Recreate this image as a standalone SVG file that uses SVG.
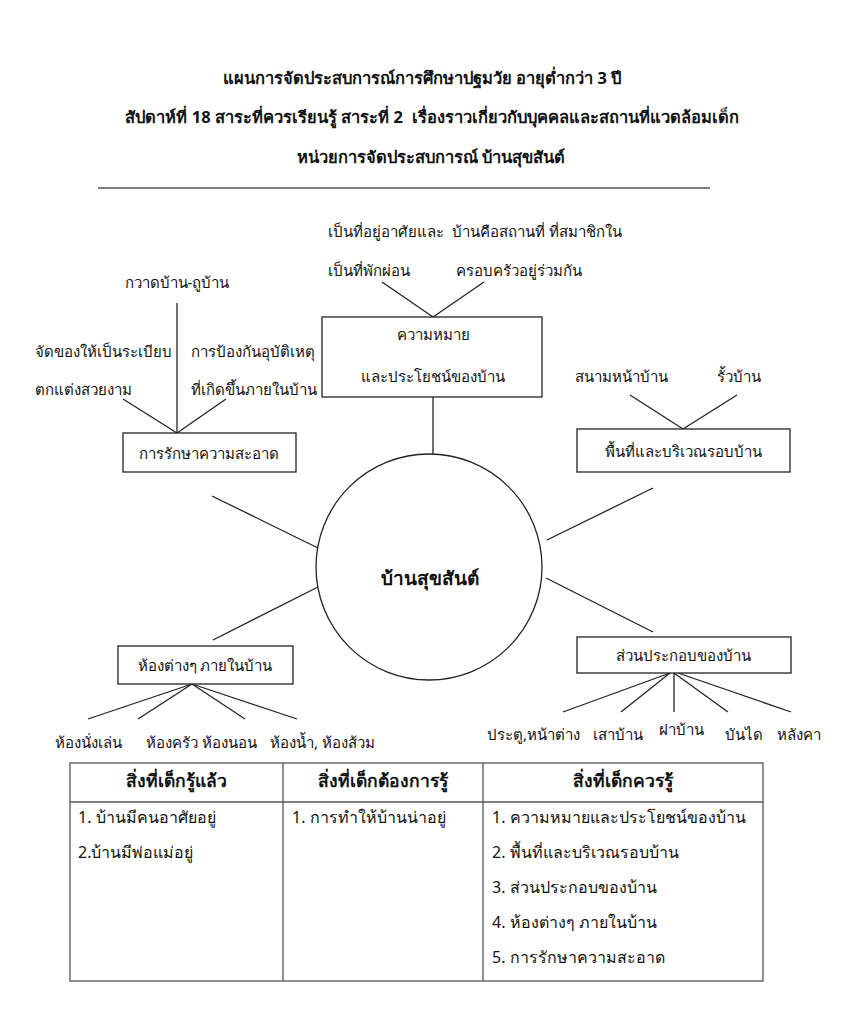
<svg xmlns="http://www.w3.org/2000/svg" width="848" height="1024" viewBox="0 0 848 1024">
<style>
text{font-family:"Noto Sans","DejaVu Sans","Liberation Sans",sans-serif;font-size:15px;fill:#111;white-space:pre}
.t{font-weight:bold;font-size:16.5px;text-anchor:middle}
.c{text-anchor:middle}
.b{font-weight:bold}
.h{font-weight:bold;font-size:17.5px;text-anchor:middle}
.r{font-size:16px}
.box{fill:#fff;stroke:#222;stroke-width:1.3}
line{stroke:#222;stroke-width:1.3}
</style>
<rect width="848" height="1024" fill="#fff"/>
<g id="title">
<text class="t" x="422" y="84">แผนการจัดประสบการณ์การศึกษาปฐมวัย อายุต่ำกว่า 3 ปี</text>
<text class="t" x="432" y="123">สัปดาห์ที่ 18 สาระที่ควรเรียนรู้ สาระที่ 2  เรื่องราวเกี่ยวกับบุคคลและสถานที่แวดล้อมเด็ก</text>
<text class="t" x="431" y="163">หน่วยการจัดประสบการณ์ บ้านสุขสันต์</text>
<line x1="98" y1="188" x2="710" y2="188" style="stroke:#555"/>
</g>
<g id="connectors">
<line x1="433" y1="397" x2="433" y2="454"/>
<line x1="382" y1="282" x2="433" y2="317"/>
<line x1="484" y1="282" x2="433" y2="317"/>
<line x1="177" y1="303" x2="177" y2="433"/>
<line x1="123" y1="399" x2="177" y2="433"/>
<line x1="226" y1="399" x2="177" y2="433"/>
<line x1="212" y1="496" x2="318" y2="548"/>
<line x1="630" y1="395" x2="683" y2="429"/>
<line x1="737" y1="395" x2="683" y2="429"/>
<line x1="653" y1="488" x2="547" y2="540"/>
<line x1="213" y1="640" x2="318" y2="587"/>
<line x1="192" y1="684" x2="88" y2="719"/>
<line x1="192" y1="684" x2="138" y2="719"/>
<line x1="192" y1="684" x2="245" y2="719"/>
<line x1="192" y1="684" x2="297" y2="719"/>
<line x1="653" y1="632" x2="546" y2="578"/>
<line x1="670" y1="673" x2="563" y2="712"/>
<line x1="670" y1="673" x2="621" y2="712"/>
<line x1="674" y1="673" x2="674" y2="712"/>
<line x1="674" y1="673" x2="728" y2="712"/>
<line x1="678" y1="673" x2="791" y2="712"/>
</g>
<g id="center">
<circle cx="429" cy="567" r="113" fill="#fff" stroke="#222" stroke-width="1.3"/>
<text class="c b" x="430" y="585" style="font-size:19px">บ้านสุขสันต์</text>
</g>
<g id="meaning">
<rect class="box" x="322" y="317" width="220" height="80"/>
<text class="c" x="433" y="340">ความหมาย</text>
<text class="c" x="433" y="382">และประโยชน์ของบ้าน</text>
<text x="328" y="237">เป็นที่อยู่อาศัยและ  บ้านคือสถานที่ ที่สมาชิกใน</text>
<text x="328" y="276">เป็นที่พักผ่อน</text>
<text x="456" y="276">ครอบครัวอยู่ร่วมกัน</text>
</g>
<g id="clean">
<rect class="box" x="123" y="433" width="173" height="39"/>
<text class="c" x="209" y="459">การรักษาความสะอาด</text>
<text class="c" x="177" y="288">กวาดบ้าน-ถูบ้าน</text>
<text x="35" y="357">จัดของให้เป็นระเบียบ</text>
<text x="35" y="395">ตกแต่งสวยงาม</text>
<text x="191" y="357">การป้องกันอุบัติเหตุ</text>
<text x="191" y="395">ที่เกิดขึ้นภายในบ้าน</text>
</g>
<g id="area">
<rect class="box" x="577" y="429" width="213" height="43"/>
<text class="c" x="683" y="457">พื้นที่และบริเวณรอบบ้าน</text>
<text x="575" y="382">สนามหน้าบ้าน</text>
<text x="717" y="382">รั้วบ้าน</text>
</g>
<g id="rooms">
<rect class="box" x="118" y="646" width="175" height="38"/>
<text class="c" x="205" y="671">ห้องต่างๆ ภายในบ้าน</text>
<text x="55" y="748">ห้องนั่งเล่น</text>
<text x="146" y="748">ห้องครัว ห้องนอน</text>
<text x="270" y="748">ห้องน้ำ, ห้องส้วม</text>
</g>
<g id="parts">
<rect class="box" x="577" y="637" width="214" height="36"/>
<text class="c" x="683" y="661">ส่วนประกอบของบ้าน</text>
<text x="487" y="740">ประตู,หน้าต่าง</text>
<text x="593" y="740">เสาบ้าน</text>
<text x="659" y="735">ฝาบ้าน</text>
<text x="725" y="740">บันได</text>
<text x="777" y="740">หลังคา</text>
</g>
<g id="table">
<rect x="70" y="763" width="693" height="218" fill="none" stroke="#555" stroke-width="1.3"/>
<line x1="70" y1="802" x2="763" y2="802" style="stroke:#555"/>
<line x1="283" y1="763" x2="283" y2="981" style="stroke:#555"/>
<line x1="483" y1="763" x2="483" y2="981" style="stroke:#555"/>
<text class="h" x="176" y="787">สิ่งที่เด็กรู้แล้ว</text>
<text class="h" x="383" y="787">สิ่งที่เด็กต้องการรู้</text>
<text class="h" x="623" y="787">สิ่งที่เด็กควรรู้</text>
<text class="r" x="78" y="823">1. บ้านมีคนอาศัยอยู่</text>
<text class="r" x="78" y="858">2.บ้านมีพ่อแม่อยู่</text>
<text class="r" x="292" y="823">1. การทำให้บ้านน่าอยู่</text>
<text class="r" x="492" y="823">1. ความหมายและประโยชน์ของบ้าน</text>
<text class="r" x="492" y="858">2. พื้นที่และบริเวณรอบบ้าน</text>
<text class="r" x="492" y="893">3. ส่วนประกอบของบ้าน</text>
<text class="r" x="492" y="928">4. ห้องต่างๆ ภายในบ้าน</text>
<text class="r" x="492" y="963">5. การรักษาความสะอาด</text>
</g>
</svg>
